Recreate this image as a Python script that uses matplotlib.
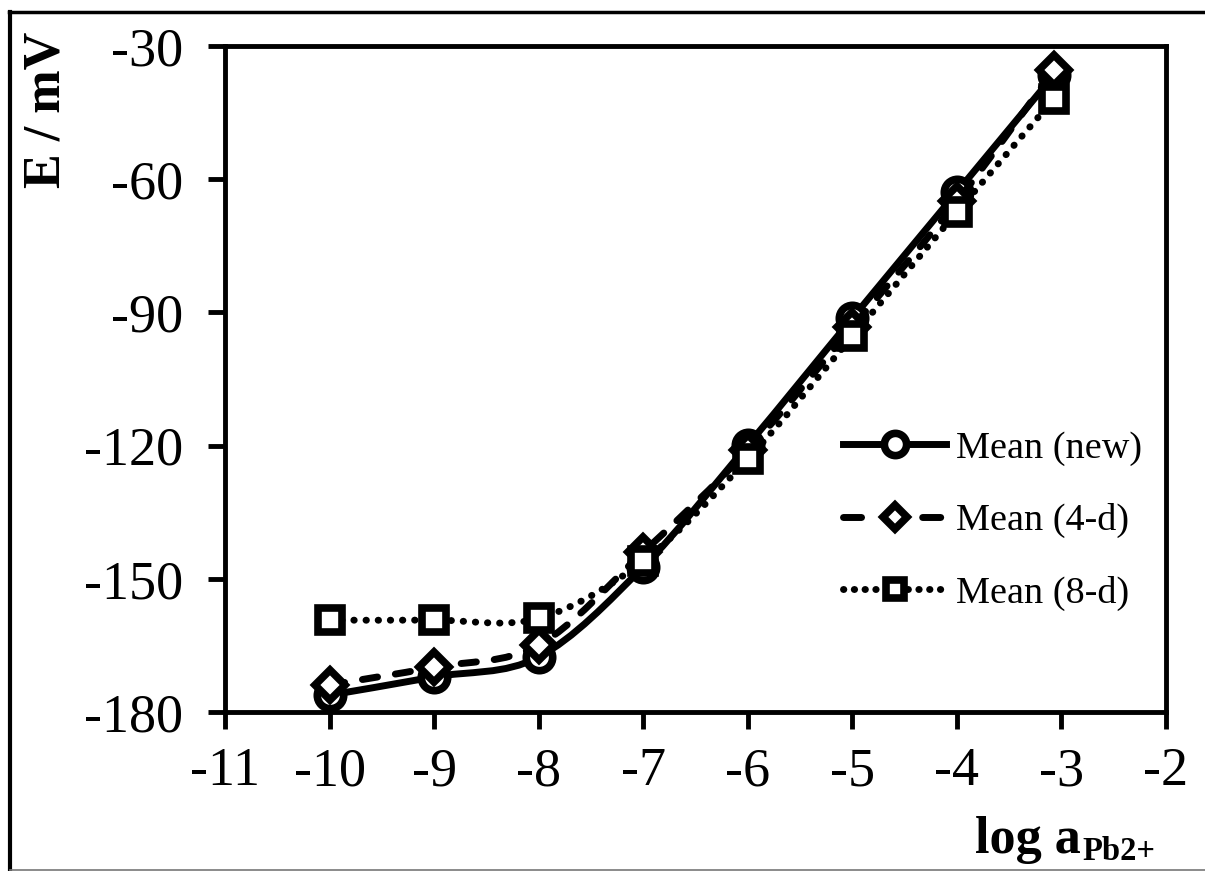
import numpy as np
import matplotlib
matplotlib.use("Agg")
from matplotlib import pyplot as plt
from matplotlib.path import Path
from matplotlib.patches import PathPatch
from matplotlib.lines import Line2D

# data
log_a = [-10, -9, -8, -7, -6, -5, -4, -3.07]
mean_new = [-176.2, -172.1, -167.6, -147.3, -119.9, -91.3, -62.9, -36.5]
mean_4d = [-173.9, -169.9, -164.9, -144.0, -121.0, -93.3, -65.0, -35.4]
mean_8d = [-159.3, -159.3, -158.9, -146.0, -123.0, -95.4, -67.4, -41.9]

labels = ["Mean (new)", "Mean (4-d)", "Mean (8-d)"]
x_ticks = list(range(-11, -1))
y_ticks = list(range(-180, 0, 30))[:6]

plt.rcParams['font.family'] = ['Liberation Serif', 'DejaVu Serif']
plt.rcParams['axes.unicode_minus'] = False


def smooth_path(x, y):
    # excel-style smoothed line: cubic bezier through the points
    pts = np.column_stack([x, y]).astype(float)
    n = len(pts)
    verts = [pts[0]]
    codes = [Path.MOVETO]
    for i in range(n - 1):
        p0 = pts[i - 1] if i > 0 else pts[i]
        p1 = pts[i]
        p2 = pts[i + 1]
        p3 = pts[i + 2] if i + 2 < n else pts[i + 1]
        c1 = p1 + (p2 - p0) / 6.0
        c2 = p2 - (p3 - p1) / 6.0
        verts += [c1, c2, p2]
        codes += [Path.CURVE4] * 3
    return Path(verts, codes)


W, H = 1205, 871
fig = plt.figure(figsize=(W / 100, H / 100), dpi=100)
ax = fig.add_axes([225 / W, 1 - 712 / H, (1166 - 225) / W, (712 - 46) / H])

lw = 5
mew = 5.5
series = [
    (mean_new, '-', 'o', 19, None),
    (mean_4d, (0, (2.2, 2.6)), 'D', 15, 'round'),
    (mean_8d, (0, (0.05, 1.7)), 's', 17, 'round'),
]

z = 3
for yv, ls, mk, ms, cap in series:
    patch = PathPatch(smooth_path(log_a, yv), fill=False, edgecolor='black',
                      lw=lw, linestyle=ls, zorder=z, joinstyle='round')
    if cap:
        patch.set_capstyle(cap)
    ax.add_patch(patch)
    ax.plot(log_a, yv, linestyle='none', marker=mk, ms=ms, mfc='white',
            mec='black', mew=mew, zorder=z + 1, clip_on=False)
    z += 2

ax.set_xlim(-11, -2)
ax.set_ylim(-180, -30)
ax.set_xticks(x_ticks)
ax.set_yticks(y_ticks)
ax.set_xticklabels([str(t) for t in x_ticks])
ax.set_yticklabels([str(t) for t in y_ticks])

for sp in ax.spines.values():
    sp.set_linewidth(3.5)
ax.tick_params(axis='both', direction='out', length=12, width=3.5,
               labelsize=39, colors='black')
ax.tick_params(axis='y', pad=18)
ax.tick_params(axis='x', pad=13)

# legend
handles = [
    Line2D([], [], color='k', lw=lw, ls='-', marker='o', ms=16,
           mfc='white', mec='k', mew=mew),
    Line2D([], [], color='k', lw=lw, ls=(0, (2.6, 8.8)), marker='D', ms=12,
           mfc='white', mec='k', mew=mew, dash_capstyle='round'),
    Line2D([], [], color='k', lw=lw, ls=(0, (0.05, 1.5)), marker='s', ms=13,
           mfc='white', mec='k', mew=mew, dash_capstyle='round'),
]
fig.legend(handles, labels, loc='center left',
           bbox_to_anchor=(843 / W, 1 - 521 / H), frameon=False,
           fontsize=27.5, handlelength=2.7, handletextpad=0.26,
           labelspacing=0.98, borderpad=0, borderaxespad=0, numpoints=1)

# axis titles
fig.text(47 / W, 1 - 110 / H, "E / mV", rotation=90, ha='center',
         va='center', fontsize=37.5, fontweight='bold')
t1 = fig.text(975 / W, 1 - 853 / H, "log a", ha='left', va='baseline',
              fontsize=37.5, fontweight='bold')
ax.annotate("Pb2+", xy=(1, 0), xycoords=t1, xytext=(1, -2),
            textcoords='offset points', ha='left', va='bottom',
            fontsize=23.5, fontweight='bold', annotation_clip=False)

# outer chart frame (cropped on the right)
fig.add_artist(Line2D([9 / W, 1], [1 - 12 / H, 1 - 12 / H], color='black',
                      lw=2.5, transform=fig.transFigure))
fig.add_artist(Line2D([10 / W, 10 / W], [1 - 12 / H, 1 - 870 / H],
                      color='black', lw=3, transform=fig.transFigure))
fig.add_artist(Line2D([10 / W, 1], [1 - 869.5 / H, 1 - 869.5 / H],
                      color='#777777', lw=1.2, transform=fig.transFigure))

fig.savefig("out.png", dpi=100)
